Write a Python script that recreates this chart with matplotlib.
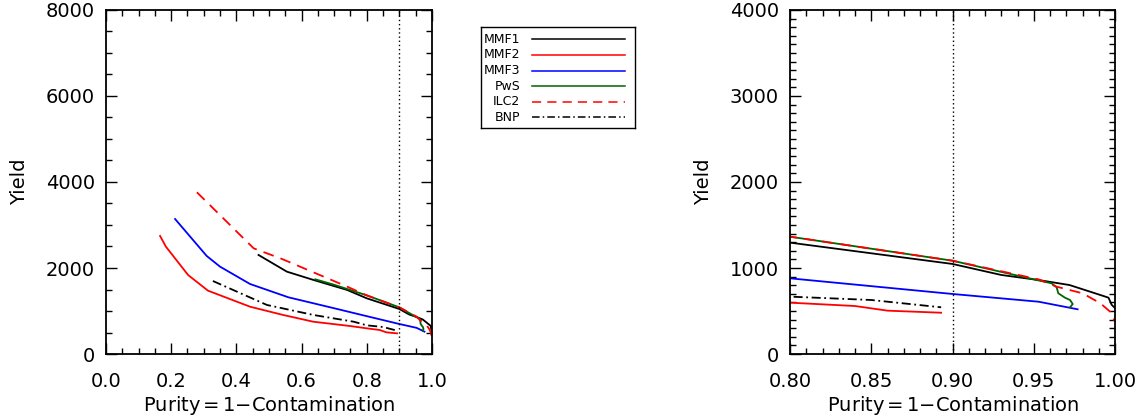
import numpy as np
import matplotlib
matplotlib.use('Agg')
import matplotlib.pyplot as plt
from matplotlib.ticker import MultipleLocator

# Yield vs purity curves
mmf1_x = [0.468, 0.555, 0.637, 0.740, 0.80, 0.85, 0.90, 0.93, 0.953, 0.972, 0.991, 0.996, 0.998, 1.0]
mmf1_y = [2303, 1915, 1721, 1489, 1295, 1171, 1047, 919, 860, 802, 686, 655, 571, 534]

mmf2_x = [0.166, 0.184, 0.252, 0.313, 0.442, 0.544, 0.636, 0.75, 0.80, 0.84, 0.86, 0.893]
mmf2_y = [2745, 2495, 1837, 1473, 1100, 907, 751, 650, 597, 558, 504, 480]

mmf3_x = [0.212, 0.309, 0.350, 0.442, 0.560, 0.688, 0.80, 0.90, 0.953, 0.977]
mmf3_y = [3140, 2280, 2031, 1628, 1318, 1086, 880, 698, 608, 520]

pws_x = [0.642, 0.70, 0.80, 0.90, 0.95, 0.961, 0.9641, 0.9651, 0.9692, 0.9723, 0.9740, 0.9723]
pws_y = [1737, 1610, 1364, 1085, 868, 822, 775, 706, 655, 628, 581, 543]

ilc2_x = [0.279, 0.453, 0.48, 0.535, 0.740, 0.80, 0.90, 0.953, 0.964, 0.980, 0.991, 0.997, 1.0]
ilc2_y = [3761, 2458, 2380, 2226, 1566, 1364, 1085, 868, 783, 706, 590, 492, 376]

bnp_x = [0.328, 0.494, 0.637, 0.760, 0.80, 0.85, 0.893]
bnp_y = [1698, 1140, 907, 751, 667, 628, 543]

series = [
    ('MMF1', mmf1_x, mmf1_y, 'black', '-'),
    ('MMF2', mmf2_x, mmf2_y, 'red', '-'),
    ('MMF3', mmf3_x, mmf3_y, 'blue', '-'),
    ('PwS', pws_x, pws_y, 'darkgreen', '-'),
    ('ILC2', ilc2_x, ilc2_y, 'red', (0, (6, 4))),
    ('BNP', bnp_x, bnp_y, 'black', (0, (5, 2, 1, 2))),
]

plt.rcParams['font.family'] = 'DejaVu Sans'
fig = plt.figure(figsize=(11.43, 4.18), dpi=100)

def panel(rect, xlim, ylim, xmaj, xmin, ymaj, ymin, xfmt):
    ax = fig.add_axes(rect)
    for name, x, y, c, ls in series:
        ax.plot(x, y, color=c, linestyle=ls, lw=1.3)
    ax.axvline(0.9, color='black', linestyle=(0, (1, 2)), lw=1.0)
    ax.set_xlim(*xlim)
    ax.set_ylim(*ylim)
    ax.xaxis.set_major_locator(MultipleLocator(xmaj))
    ax.xaxis.set_minor_locator(MultipleLocator(xmin))
    ax.yaxis.set_major_locator(MultipleLocator(ymaj))
    ax.yaxis.set_minor_locator(MultipleLocator(ymin))
    ax.xaxis.set_major_formatter(plt.FormatStrFormatter(xfmt))
    ax.tick_params(which='both', direction='in', top=True, right=True, labelsize=14)
    ax.tick_params(which='major', length=8, width=1.0)
    ax.tick_params(which='minor', length=4, width=1.0)
    ax.tick_params(axis='y', which='major', pad=8)
    ax.tick_params(axis='x', which='major', pad=13)
    for s in ax.spines.values():
        s.set_linewidth(1.3)
    ax.set_xlabel('Purity$\\,$=$\\,$1$-$Contamination', fontsize=14, labelpad=2)
    ax.set_ylabel('Yield', fontsize=14, labelpad=12)
    return ax

ax1 = panel([0.0927, 0.1531, 0.2852, 0.823], (0, 1), (0, 8000), 0.2, 0.05, 2000, 500, '%.1f')
ax2 = panel([0.6912, 0.1531, 0.2843, 0.823], (0.8, 1.0), (0, 4000), 0.05, 0.01, 1000, 100, '%.2f')

# legend box drawn by hand (labels left of the line samples)
lax = fig.add_axes([481 / 1143, 1 - 128 / 418, 154 / 1143, 101 / 418])
lax.set_xlim(0, 154)
lax.set_ylim(101, 0)
lax.set_xticks([])
lax.set_yticks([])
for s in lax.spines.values():
    s.set_linewidth(1.0)
for i, (name, x, y, c, ls) in enumerate(series):
    yy = 12.3 + i * 15.6
    lax.text(39, yy, name, ha='right', va='center', fontsize=9)
    lax.plot([51, 144], [yy, yy], color=c, linestyle=ls, lw=1.1)

plt.savefig('out.png', dpi=100)
